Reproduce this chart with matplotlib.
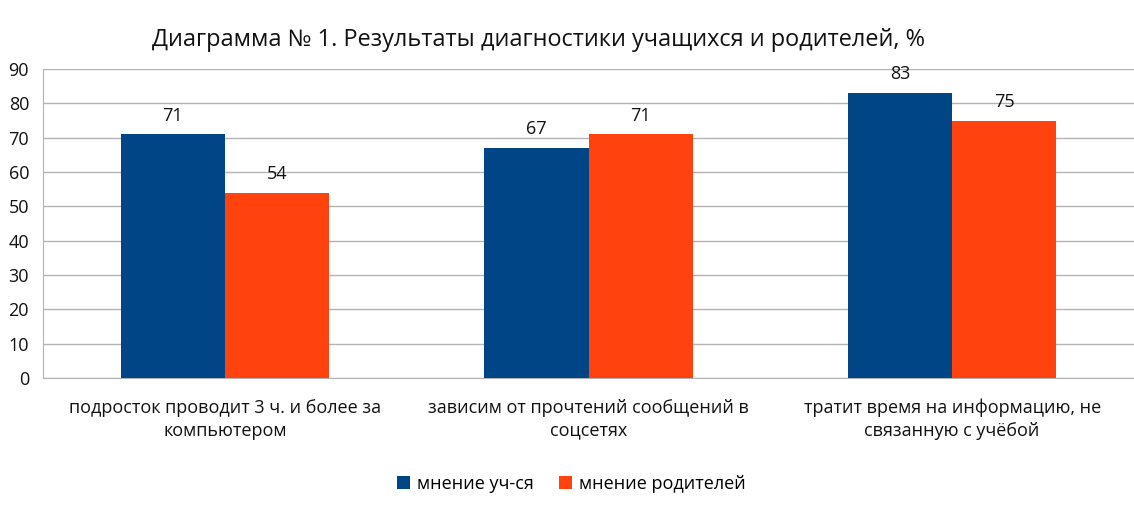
import matplotlib
matplotlib.use("Agg")
import matplotlib.pyplot as plt
import numpy as np

categories = ["подросток проводит 3 ч. и более за\nкомпьютером",
              "зависим от прочтений сообщений в\nсоцсетях",
              "тратит время на информацию, не\nсвязанную с учёбой"]
students = [71, 67, 83]
parents = [54, 71, 75]
series_names = ["мнение уч-ся", "мнение родителей"]
title = "Диаграмма № 1. Результаты диагностики учащихся и родителей, %"

plt.rcParams['font.family'] = ['Open Sans', 'DejaVu Sans']

fig = plt.figure(figsize=(11.34, 5.15), dpi=100)
ax = fig.add_axes([43/1134, 1-378/515, 1-43/1134, (378-69)/515])

x = np.arange(len(categories))
w = 0.286
blue = "#004586"
orange = "#ff420e"
b1 = ax.bar(x - w/2, students, w, color=blue, label=series_names[0], zorder=3)
b2 = ax.bar(x + w/2, parents, w, color=orange, label=series_names[1], zorder=3)
for bars in (b1, b2):
    for r in bars:
        ax.annotate(f"{r.get_height():g}", (r.get_x() + r.get_width()/2, r.get_height()),
                    xytext=(0, 7), textcoords="offset points", ha="center", va="bottom",
                    fontsize=13, color="#111111")

ax.set_xlim(-0.5, 2.5)
ax.set_ylim(0, 90)
ax.set_yticks(range(0, 91, 10))
ax.yaxis.grid(True, color="#b3b3b3", linewidth=1, zorder=0)
ax.set_axisbelow(True)
for s in ("top", "right"):
    ax.spines[s].set_visible(False)
for s in ("left", "bottom"):
    ax.spines[s].set_color("#b3b3b3")
ax.tick_params(axis="both", length=0, colors="#111111")
ax.tick_params(axis="y", pad=10, labelsize=13)
ax.tick_params(axis="x", pad=15)
ax.set_xticks(x)
ax.set_xticklabels(categories, fontsize=13, linespacing=1.35)

fig.text(0.475, 1-40/515, title, ha="center", va="center", fontsize=16.9,
         color="#111111")

fig.legend(handles=[b1, b2], loc="center", bbox_to_anchor=(0.504, 1-484/515),
           ncol=2, frameon=False, fontsize=13, handlelength=0.7, handleheight=0.7,
           columnspacing=1.4, handletextpad=0.4)

fig.savefig("out.png", dpi=100)
